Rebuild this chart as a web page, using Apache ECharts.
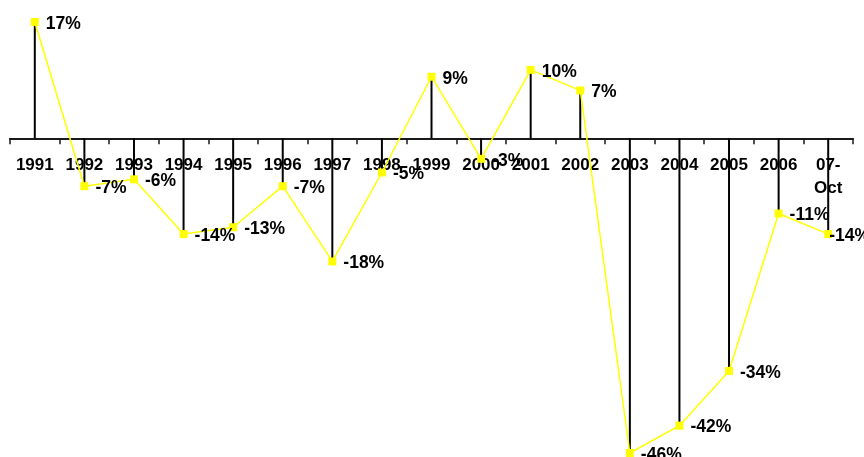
<!DOCTYPE html>
<html>
<head>
<meta charset="utf-8">
<script src="https://cdn.jsdelivr.net/npm/echarts@6/dist/echarts.min.js"></script>
<style>
  html, body { margin: 0; padding: 0; background: #fff; }
  #chart { width: 864px; height: 457px; }
</style>
</head>
<body>
<div id="chart"></div>
<script>
// Yearly returns, 1991 to Oct 2007
const categories = ['1991', '1992', '1993', '1994', '1995', '1996', '1997', '1998', '1999',
  '2000', '2001', '2002', '2003', '2004', '2005', '2006', '07-\nOct'];
const returns = [17, -7, -6, -14, -13, -7, -18, -5, 9, -3, 10, 7, -46, -42, -34, -11, -14];

const FONT = '"Liberation Sans", Arial, sans-serif';
const Y_MIN = -46, Y_MAX = 17;
const GRID_TOP = 22, GRID_BOTTOM = 4, HEIGHT = 457;

// the category axis sits on the zero line of the value axis
const plotHeight = HEIGHT - GRID_TOP - GRID_BOTTOM;
const zeroFromBottom = plotHeight * (0 - Y_MIN) / (Y_MAX - Y_MIN);

// the last label is pulled in towards its marker so it stays near the edge
const lineData = returns.map((v, i) => i === returns.length - 1
  ? { value: v, label: { distance: -3 } }
  : v);

const chart = echarts.init(document.getElementById('chart'), null, { renderer: 'canvas' });
chart.setOption({
  animation: false,
  backgroundColor: '#ffffff',
  grid: { left: 10, right: 11, top: GRID_TOP, bottom: GRID_BOTTOM,
    containLabel: false, outerBoundsMode: 'none' },
  xAxis: {
    type: 'category',
    data: categories,
    position: 'bottom',
    offset: -zeroFromBottom,
    boundaryGap: true,
    axisLine: { onZero: false, lineStyle: { color: '#1a1a1a', width: 2 } },
    axisTick: { show: true, length: 6, inside: false, alignWithLabel: false,
      lineStyle: { color: '#1a1a1a', width: 1.5 } },
    axisLabel: {
      interval: 0, margin: 16, lineHeight: 23,
      fontFamily: FONT, fontWeight: 'bold', fontSize: 17, color: '#000'
    },
    splitLine: { show: false }
  },
  yAxis: {
    type: 'value', min: Y_MIN, max: Y_MAX, show: false, splitLine: { show: false }
  },
  series: [
    {
      // drop lines from zero to each point
      type: 'bar',
      data: returns,
      barWidth: 2,
      itemStyle: { color: '#000' },
      silent: true,
      z: 2
    },
    {
      type: 'line',
      data: lineData,
      symbol: 'rect',
      symbolSize: 8,
      clip: false,
      itemStyle: { color: '#ffff00' },
      lineStyle: { color: '#ffff00', width: 1.5 },
      label: {
        show: true, position: 'right', distance: 7, offset: [0, 2],
        formatter: '{c}%',
        fontFamily: FONT, fontWeight: 'bold', fontSize: 17.5, color: '#000'
      },
      z: 3
    }
  ]
});
</script>
</body>
</html>
